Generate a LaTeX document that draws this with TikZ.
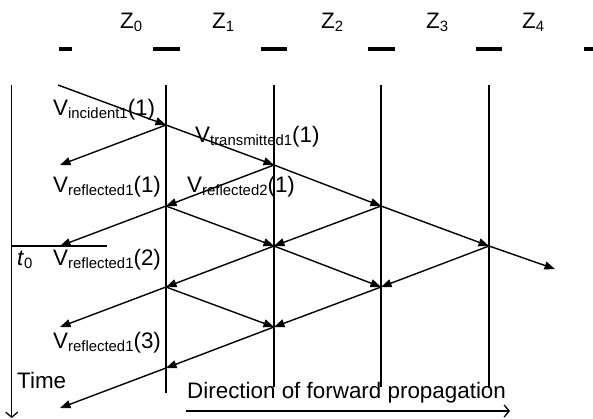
\documentclass[tikz,border=0pt]{standalone}
\usepackage{fontspec}
\setmainfont{Liberation Sans}
\usetikzlibrary{arrows.meta}
\newcommand\subtxt[1]{\raisebox{-3pt}{\fontsize{14.9}{15}\selectfont #1}}
\newcommand\Vlab[2]{V\subtxt{#1}(#2)}
\tikzset{
  wire/.style={line width=1.4pt},
  ray/.style={line width=1.4pt,-{Triangle[length=10.5pt,width=8pt]}},
  axis/.style={line width=1.3pt,-{Straight Barb[length=5pt,width=12pt,line width=1.3pt]}},
  dashmark/.style={line width=4pt},
  lab/.style={anchor=base west,inner sep=0pt,font=\fontsize{22.4}{26}\selectfont}
}
\begin{document}
\begin{tikzpicture}[x=1pt,y=-1pt]
\useasboundingbox (0,0) rectangle (593,419);
% impedance labels and dashes
\node[lab] (z0) at (120,29) {Z\subtxt{0}};
\node[lab] (z1) at (212,29) {Z\subtxt{1}};
\node[lab] (z2) at (321,29) {Z\subtxt{2}};
\node[lab] (z3) at (426,29) {Z\subtxt{3}};
\node[lab] (z4) at (522,29) {Z\subtxt{4}};
\draw[dashmark] (59,49) -- (72,49);
\draw[dashmark] (153,49) -- (180,49);
\draw[dashmark] (261,49) -- (287,49);
\draw[dashmark] (368,49) -- (395,49);
\draw[dashmark] (476,49) -- (502,49);
\draw[dashmark] (584,49) -- (594,49);
% interface lines
\coordinate (l0t) at (11.7,85); \coordinate (l0b) at (11.7,418);
\coordinate (l1t) at (166,85);  \coordinate (l1b) at (166,393);
\coordinate (l2t) at (274,85);  \coordinate (l2b) at (274,387);
\coordinate (l3t) at (381,85);  \coordinate (l3b) at (381,387);
\coordinate (l4t) at (489,85);  \coordinate (l4b) at (489,388);
\draw[axis] (l0t) -- (l0b);
\draw[wire] (l1t) -- (l1b);
\draw[wire] (l2t) -- (l2b);
\draw[wire] (l3t) -- (l3b);
\draw[wire] (l4t) -- (l4b);
% t0 line
\coordinate (t0a) at (11.7,246); \coordinate (t0b) at (107,246);
\draw[wire] (t0a) -- (t0b);
% lattice points
\coordinate (S) at (58,85);
\coordinate (A) at (166,125);
\coordinate (B) at (274,165);
\coordinate (C) at (166,206);
\coordinate (D) at (381,206);
\coordinate (E) at (274,246);
\coordinate (F) at (489,246);
\coordinate (G) at (166,287);
\coordinate (H) at (381,287);
\coordinate (I) at (274,327);
\coordinate (J) at (166,368);
\coordinate (R1) at (60,165);
\coordinate (R2) at (60,246);
\coordinate (R3) at (60,327);
\coordinate (R4) at (60,408);
\coordinate (T) at (555,269);
\draw[ray] (S) -- (A);
\draw[ray] (A) -- (B);
\draw[ray] (A) -- (R1);
\draw[ray] (B) -- (C);
\draw[ray] (B) -- (D);
\draw[ray] (C) -- (R2);
\draw[ray] (C) -- (E);
\draw[ray] (D) -- (E);
\draw[ray] (D) -- (F);
\draw[ray] (E) -- (G);
\draw[ray] (E) -- (H);
\draw[ray] (F) -- (H);
\draw[ray] (F) -- (T);
\draw[ray] (G) -- (R3);
\draw[ray] (G) -- (I);
\draw[ray] (H) -- (I);
\draw[ray] (I) -- (J);
\draw[ray] (J) -- (R4);
% wave labels
\node[lab] (vi1) at (53,116) {\Vlab{incident1}{1}};
\node[lab] (vt1) at (195,143) {\Vlab{transmitted1}{1}};
\node[lab] (vr11) at (53,193) {\Vlab{reflected1}{1}};
\node[lab] (vr21) at (187,193) {\Vlab{reflected2}{1}};
\node[lab] (t0) at (17,265) {\textit{t}\subtxt{0}};
\node[lab] (vr12) at (53,265) {\Vlab{reflected1}{2}};
\node[lab] (vr13) at (53,348) {\Vlab{reflected1}{3}};
\node[lab] (time) at (17,388) {Time};
\node[lab] (dir) at (187,398) {Direction of forward propagation};
% direction arrow
\coordinate (da) at (186,411); \coordinate (db) at (510,411);
\draw[axis] (da) -- (db);
\end{tikzpicture}
\end{document}
